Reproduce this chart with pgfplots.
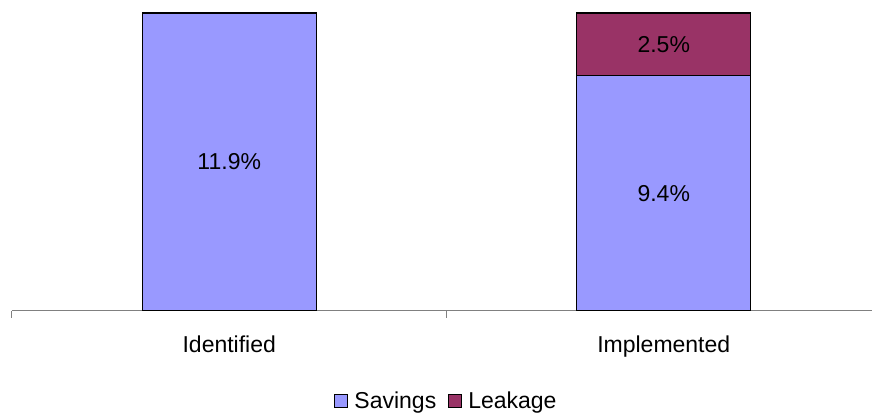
\documentclass[border=0pt]{standalone}
\usepackage{pgfplots}
\pgfplotsset{compat=1.18}
\usepackage{fontspec}
\setmainfont{Liberation Sans}
\definecolor{savings}{HTML}{9999FF}
\definecolor{leakage}{HTML}{993366}
\definecolor{axisgray}{HTML}{808080}
\newcommand{\chartfont}{\fontsize{23}{27}\selectfont}
\begin{document}
\begin{tikzpicture}[x=1pt,y=1pt]
\path[use as bounding box] (0,0) rectangle (872,414);
\begin{axis}[
  at={(12pt,103pt)}, anchor=south west,
  scale only axis, width=869pt, height=298pt,
  ybar stacked, bar width=174pt,
  xmin=-0.5, xmax=1.5, ymin=0, ymax=11.9,
  axis x line*=bottom, axis y line=none,
  axis line style={axisgray, line width=1pt},
  xtick={0,1}, xticklabels={Identified,Implemented},
  minor xtick={-0.5,0.5,1.5},
  major tick length=0pt, minor tick length=7pt,
  xtick align=outside,
  tick style={axisgray, line width=1pt},
  xticklabel style={font=\chartfont, inner sep=0pt, yshift=-25pt},
  ytick=\empty,
  point meta=explicit symbolic,
  nodes near coords,
  every node near coord/.append style={font=\chartfont, anchor=center},
  legend style={at={(0.5,-0.302)}, anchor=center, draw=none,
    font=\chartfont, legend columns=2,
    /tikz/every even column/.append style={column sep=10pt}},
]
\addplot[fill=savings, draw=black, line width=1.2pt,
  legend image code/.code={\draw[fill=savings, draw=black, line width=0.8pt]
    (0pt,-6.5pt) rectangle (13pt,6.5pt); \path (17pt,0pt);}]
  coordinates {(0,11.9) [11.9\%] (1,9.4) [9.4\%]};
\addplot[fill=leakage, draw=black, line width=1.2pt,
  legend image code/.code={\draw[fill=leakage, draw=black, line width=0.8pt]
    (0pt,-6.5pt) rectangle (13pt,6.5pt); \path (17pt,0pt);}]
  coordinates {(0,0) [] (1,2.5) [2.5\%]};
\legend{Savings,Leakage}
\end{axis}
\end{tikzpicture}
\end{document}
